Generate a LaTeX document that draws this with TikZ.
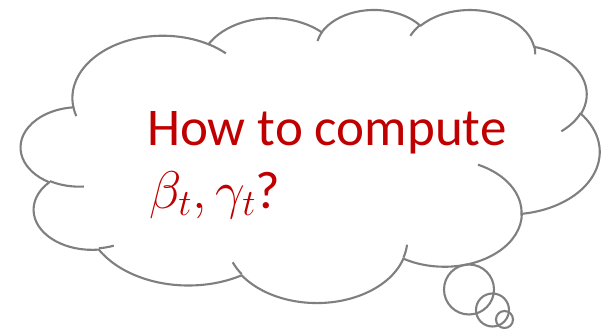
\RequirePackage{fix-cm}
\documentclass[tikz,border=0pt]{standalone}
\usepackage{fontspec}
\setmainfont{Carlito}
\definecolor{thoughtred}{HTML}{C00000}
\definecolor{cloudgray}{HTML}{7F7F7F}
\begin{document}
\begin{tikzpicture}[x=1pt, y=-1pt]
    \tikzstyle{cloudline}=[draw=cloudgray, line width=2.1pt, line join=round];
    \tikzstyle{bubble}=[cloudline, circle, inner sep=0pt];
    \tikzstyle{thought}=[text=thoughtred, font=\fontsize{53}{64}\selectfont, inner sep=0pt, anchor=base west];

    \useasboundingbox (0,0) rectangle (616,329);

    \gdef\cloudpath{}
    \foreach \rx/\ry/\st/\sw in {67.53/91.90/-190.487483/123.780533, 53.33/72.67/-144.102383/89.945233,
        43.65/59.45/-145.807917/99.723017, 48.57/65.95/-130.986067/117.241733,
        53.33/72.73/-78.708883/109.026917, 67.75/92.20/-46.26725/130.269,
        57.85/78.67/0.625017/114.033333, 67.52/92.15/22.4516/115.17255,
        77.20/105.43/66.242633/75.711017, 43.60/59.18/-274.942083/146.735567,
        43.45/59.45/-246.8285/152.51885}{
        \pgfmathsetmacro\ta{atan2(\rx*sin(\st),\ry*cos(\st))}
        \pgfmathsetmacro\tb{atan2(\rx*sin(\st+\sw),\ry*cos(\st+\sw))}
        \pgfmathsetmacro\tc{mod(\tb-\ta+720,360)}
        \xdef\cloudpath{\cloudpath arc[start angle=\ta, delta angle=\tc, x radius=\rx, y radius=\ry]}
    }

    \gdef\cloudtick{}
    \foreach \px/\py/\rx/\ry/\st/\sw in {46.93/261.77/43.45/59.45/86.742/26.4295,
        69.28/348.99/43.60/59.18/73.610467/11.447467, 164.78/390.90/67.52/92.15/137.62415/14.0811,
        288.27/347.51/67.52/92.15/6.453267/15.99835, 341.29/229.54/57.85/78.67/-70.29235/74.126717,
        417.98/153.54/53.33/72.73/30.318033/27.7515, 383.24/54.26/48.57/65.95/-13.744333/14.8589,
        290.78/39.52/48.57/65.95/-149.18145/18.195367, 221.41/47.20/43.65/59.45/-163.494267/17.68635,
        140.00/51.92/67.53/91.90/-66.70695/12.31935, 41.27/157.89/67.53/91.90/157.65435/11.858167}{
        \pgfmathsetmacro\ta{atan2(\rx*sin(\st),\ry*cos(\st))}
        \pgfmathsetmacro\tb{atan2(\rx*sin(\st+\sw),\ry*cos(\st+\sw))}
        \pgfmathsetmacro\tc{mod(\tb-\ta+720,360)}
        \xdef\cloudtick{\cloudtick (\px,\py) arc[start angle=\ta, delta angle=\tc, x radius=\rx, y radius=\ry]}
    }

    \begin{scope}[shift={(21,9)}, x=1.3391pt, y=-0.6782pt]
        \draw[cloudline, fill=white] (39,143.7) \cloudpath -- cycle;
        \draw[cloudline] \cloudtick;
    \end{scope}

    \node[bubble, minimum size=50pt] (big) at (469,289.5) {};
    \node[bubble, minimum size=33pt] (mid) at (492.5,310) {};
    \node[bubble, minimum size=17pt] (small) at (504.5,319.5) {};

    \node[thought] (howto) at (147,145) {How to compute};
    \node[thought] (params) at (149,208) {$\beta_t,\gamma_t$?};
\end{tikzpicture}
\end{document}
